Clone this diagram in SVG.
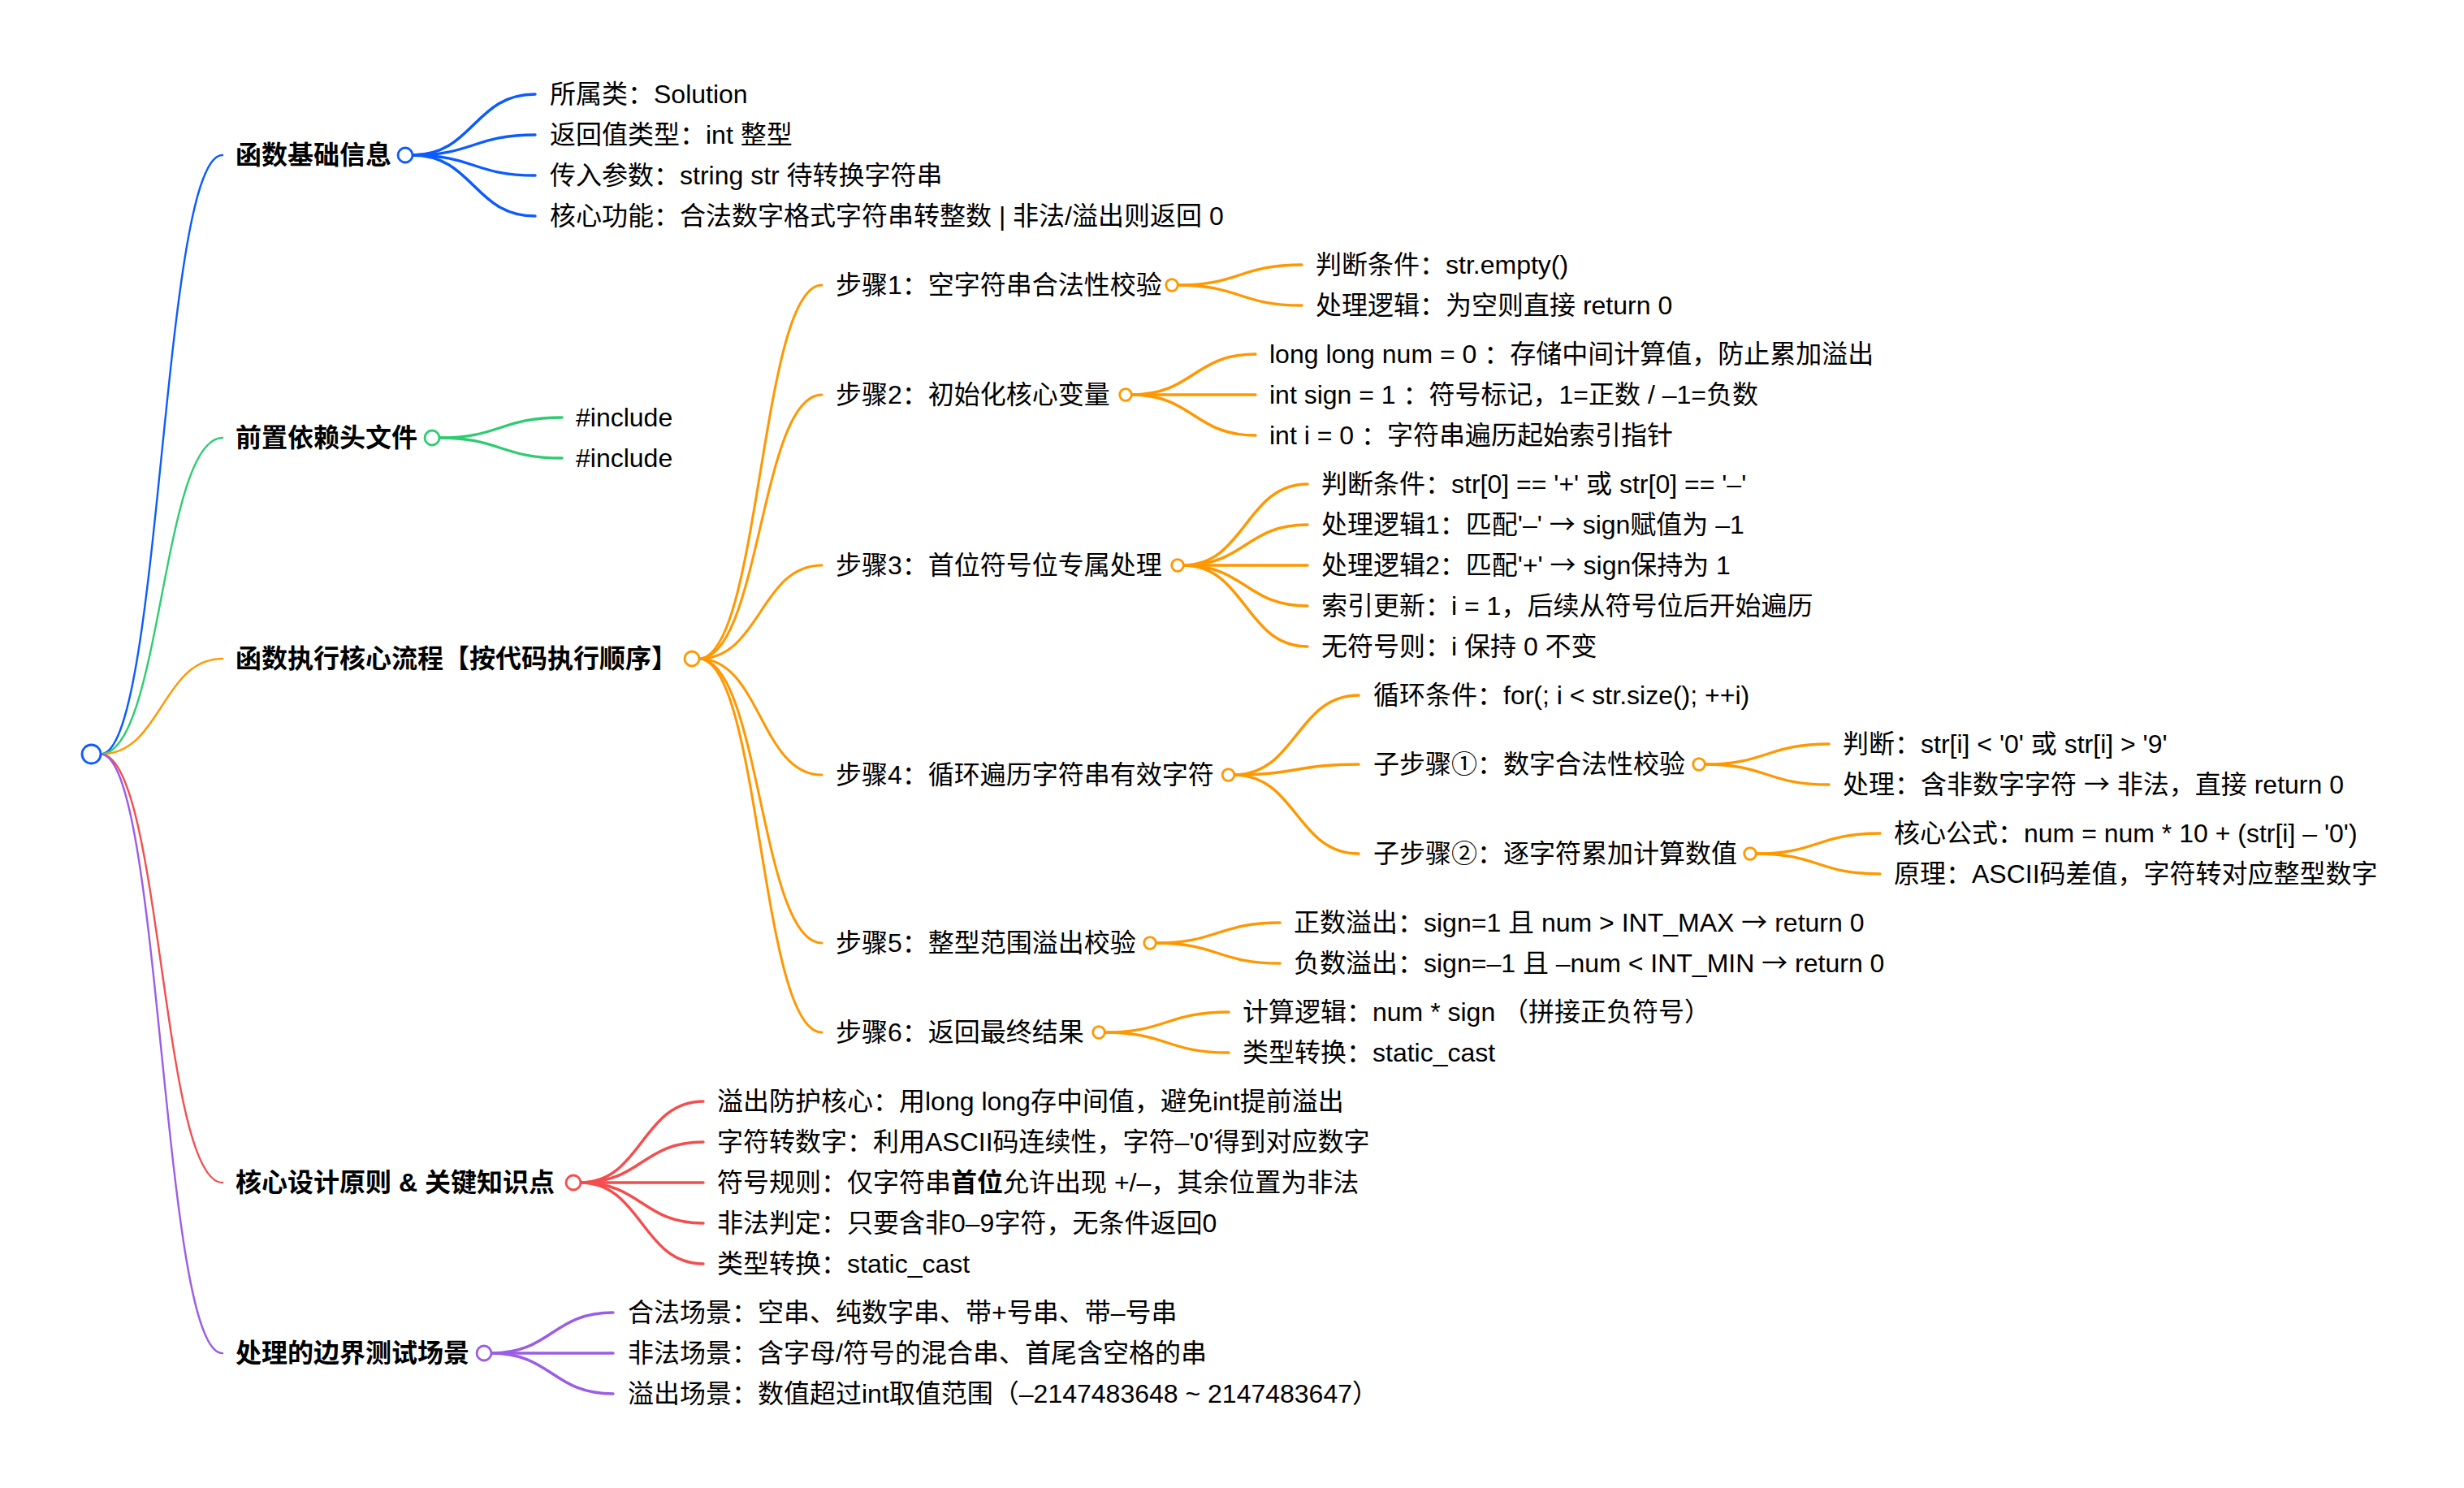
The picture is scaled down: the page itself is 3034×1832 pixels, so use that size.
<svg xmlns="http://www.w3.org/2000/svg" width="3034" height="1832" viewBox="0 0 3034 1832">
<style>
.t{font-family:"Liberation Sans","Noto Sans CJK SC",sans-serif;font-size:32px;fill:#000}
.b{font-weight:700}
.ar{font-family:"Noto Sans CJK SC","DejaVu Sans",sans-serif;font-size:32px}
.lk{fill:none;stroke-linecap:round}
.l1{stroke-width:2.4}
.l2{stroke-width:3}
.l3{stroke-width:3.4}
.c{fill:#fff;stroke-width:2.8}
.blue{stroke:#0b5cff}
.green{stroke:#2ecc71}
.orange{stroke:#ff9800}
.red{stroke:#f44d4d}
.purple{stroke:#9b5de5}
</style>
<rect width="3034" height="1832" fill="#fff"/>
<g id="connectors">
<g class="lk l1">
<path class="blue" d="M124,928.5C199,928.5 199,191 274,191"/>
<path class="green" d="M124,928.5C199,928.5 199,539 274,539"/>
<path class="orange" d="M124,928.5C199,928.5 199,811 274,811"/>
<path class="red" d="M124,928.5C199,928.5 199,1456 274,1456"/>
<path class="purple" d="M124,928.5C199,928.5 199,1666 274,1666"/>
</g>
<g class="lk l3 blue">
<path d="M507.5,191C583.25,191 583.25,116 659,116"/>
<path d="M507.5,191C583.25,191 583.25,166 659,166"/>
<path d="M507.5,191C583.25,191 583.25,216 659,216"/>
<path d="M507.5,191C583.25,191 583.25,266 659,266"/>
</g>
<g class="lk l3 green">
<path d="M540.5,539C616.25,539 616.25,514 692,514"/>
<path d="M540.5,539C616.25,539 616.25,564 692,564"/>
</g>
<g class="lk l2 orange">
<path d="M860.5,811C936.25,811 936.25,351 1012,351"/>
<path d="M860.5,811C936.25,811 936.25,486 1012,486"/>
<path d="M860.5,811C936.25,811 936.25,696 1012,696"/>
<path d="M860.5,811C936.25,811 936.25,954 1012,954"/>
<path d="M860.5,811C936.25,811 936.25,1161 1012,1161"/>
<path d="M860.5,811C936.25,811 936.25,1271 1012,1271"/>
</g>
<g class="lk l3 orange">
<path d="M1450,351C1526.5,351 1526.5,326 1603,326"/>
<path d="M1450,351C1526.5,351 1526.5,376 1603,376"/>
<path d="M1393,486C1469.5,486 1469.5,436 1546,436"/>
<path d="M1393,486C1469.5,486 1469.5,486 1546,486"/>
<path d="M1393,486C1469.5,486 1469.5,536 1546,536"/>
<path d="M1457,696C1533.5,696 1533.5,596 1610,596"/>
<path d="M1457,696C1533.5,696 1533.5,646 1610,646"/>
<path d="M1457,696C1533.5,696 1533.5,696 1610,696"/>
<path d="M1457,696C1533.5,696 1533.5,746 1610,746"/>
<path d="M1457,696C1533.5,696 1533.5,796 1610,796"/>
<path d="M1519.5,954C1596.25,954 1596.25,856 1673,856"/>
<path d="M1519.5,954C1596.25,954 1596.25,941 1673,941"/>
<path d="M1519.5,954C1596.25,954 1596.25,1051 1673,1051"/>
<path d="M2099,941C2175.5,941 2175.5,916 2252,916"/>
<path d="M2099,941C2175.5,941 2175.5,966 2252,966"/>
<path d="M2162,1051C2238.5,1051 2238.5,1026 2315,1026"/>
<path d="M2162,1051C2238.5,1051 2238.5,1076 2315,1076"/>
<path d="M1423,1161C1499.5,1161 1499.5,1136 1576,1136"/>
<path d="M1423,1161C1499.5,1161 1499.5,1186 1576,1186"/>
<path d="M1360,1271C1436.5,1271 1436.5,1246 1513,1246"/>
<path d="M1360,1271C1436.5,1271 1436.5,1296 1513,1296"/>
</g>
<g class="lk l3 red">
<path d="M714.5,1456C790.25,1456 790.25,1356 866,1356"/>
<path d="M714.5,1456C790.25,1456 790.25,1406 866,1406"/>
<path d="M714.5,1456C790.25,1456 790.25,1456 866,1456"/>
<path d="M714.5,1456C790.25,1456 790.25,1506 866,1506"/>
<path d="M714.5,1456C790.25,1456 790.25,1556 866,1556"/>
</g>
<g class="lk l3 purple">
<path d="M604.5,1666C679.75,1666 679.75,1616 755,1616"/>
<path d="M604.5,1666C679.75,1666 679.75,1666 755,1666"/>
<path d="M604.5,1666C679.75,1666 679.75,1716 755,1716"/>
</g>
</g>

<g id="root"><circle class="c blue" cx="112.5" cy="928.5" r="11.5"/></g>

<g id="n-basic"><text class="t b" x="290" y="202">函数基础信息</text><circle class="c blue" cx="499" cy="191" r="9"/></g>
<g id="n-basic-1"><text class="t" x="677" y="127">所属类：Solution</text></g>
<g id="n-basic-2"><text class="t" x="677" y="177">返回值类型：int 整型</text></g>
<g id="n-basic-3"><text class="t" x="677" y="227">传入参数：string str 待转换字符串</text></g>
<g id="n-basic-4"><text class="t" x="677" y="277">核心功能：合法数字格式字符串转整数 | 非法/溢出则返回 0</text></g>

<g id="n-include"><text class="t b" x="290" y="550">前置依赖头文件</text><circle class="c green" cx="532" cy="539" r="9"/></g>
<g id="n-include-1"><text class="t" x="709" y="525">#include</text></g>
<g id="n-include-2"><text class="t" x="709" y="575">#include</text></g>

<g id="n-flow"><text class="t b" x="290" y="822">函数执行核心流程【按代码执行顺序】</text><circle class="c orange" cx="852" cy="811" r="9"/></g>

<g id="n-step1"><text class="t" x="1029" y="362">步骤1：空字符串合法性校验</text><circle class="c orange" cx="1443" cy="351" r="7.3"/></g>
<g id="n-step1-1"><text class="t" x="1620" y="337">判断条件：str.empty()</text></g>
<g id="n-step1-2"><text class="t" x="1620" y="387">处理逻辑：为空则直接 return 0</text></g>

<g id="n-step2"><text class="t" x="1029" y="497">步骤2：初始化核心变量</text><circle class="c orange" cx="1386" cy="486" r="7.3"/></g>
<g id="n-step2-1"><text class="t" x="1563" y="447">long long num = 0 ：存储中间计算值，防止累加溢出</text></g>
<g id="n-step2-2"><text class="t" x="1563" y="497">int sign = 1 ：符号标记，1=正数 / –1=负数</text></g>
<g id="n-step2-3"><text class="t" x="1563" y="547">int i = 0 ：字符串遍历起始索引指针</text></g>

<g id="n-step3"><text class="t" x="1029" y="707">步骤3：首位符号位专属处理</text><circle class="c orange" cx="1450" cy="696" r="7.3"/></g>
<g id="n-step3-1"><text class="t" x="1627" y="607">判断条件：str[0] == '+' 或 str[0] == '–'</text></g>
<g id="n-step3-2"><text class="t" x="1627" y="657">处理逻辑1：匹配'–' <tspan class="ar">→</tspan> sign赋值为 –1</text></g>
<g id="n-step3-3"><text class="t" x="1627" y="707">处理逻辑2：匹配'+' <tspan class="ar">→</tspan> sign保持为 1</text></g>
<g id="n-step3-4"><text class="t" x="1627" y="757">索引更新：i = 1，后续从符号位后开始遍历</text></g>
<g id="n-step3-5"><text class="t" x="1627" y="807">无符号则：i 保持 0 不变</text></g>

<g id="n-step4"><text class="t" x="1029" y="965">步骤4：循环遍历字符串有效字符</text><circle class="c orange" cx="1512.5" cy="954" r="7.3"/></g>
<g id="n-step4-1"><text class="t" x="1691" y="867">循环条件：for(; i &lt; str.size(); ++i)</text></g>
<g id="n-step4-2"><text class="t" x="1691" y="952">子步骤①：数字合法性校验</text><circle class="c orange" cx="2092" cy="941" r="7.3"/></g>
<g id="n-step4-2-1"><text class="t" x="2269" y="927">判断：str[i] &lt; '0' 或 str[i] &gt; '9'</text></g>
<g id="n-step4-2-2"><text class="t" x="2269" y="977">处理：含非数字字符 <tspan class="ar">→</tspan> 非法，直接 return 0</text></g>
<g id="n-step4-3"><text class="t" x="1691" y="1062">子步骤②：逐字符累加计算数值</text><circle class="c orange" cx="2155" cy="1051" r="7.3"/></g>
<g id="n-step4-3-1"><text class="t" x="2332" y="1037">核心公式：num = num * 10 + (str[i] – '0')</text></g>
<g id="n-step4-3-2"><text class="t" x="2332" y="1087">原理：ASCII码差值，字符转对应整型数字</text></g>

<g id="n-step5"><text class="t" x="1029" y="1172">步骤5：整型范围溢出校验</text><circle class="c orange" cx="1416" cy="1161" r="7.3"/></g>
<g id="n-step5-1"><text class="t" x="1593" y="1147">正数溢出：sign=1 且 num &gt; INT_MAX <tspan class="ar">→</tspan> return 0</text></g>
<g id="n-step5-2"><text class="t" x="1593" y="1197">负数溢出：sign=–1 且 –num &lt; INT_MIN <tspan class="ar">→</tspan> return 0</text></g>

<g id="n-step6"><text class="t" x="1029" y="1282">步骤6：返回最终结果</text><circle class="c orange" cx="1353" cy="1271" r="7.3"/></g>
<g id="n-step6-1"><text class="t" x="1530" y="1257">计算逻辑：num * sign （拼接正负符号）</text></g>
<g id="n-step6-2"><text class="t" x="1530" y="1307">类型转换：static_cast</text></g>

<g id="n-design"><text class="t b" x="290" y="1467">核心设计原则 &amp; 关键知识点</text><circle class="c red" cx="706" cy="1456" r="9"/></g>
<g id="n-design-1"><text class="t" x="883" y="1367">溢出防护核心：用long long存中间值，避免int提前溢出</text></g>
<g id="n-design-2"><text class="t" x="883" y="1417">字符转数字：利用ASCII码连续性，字符–'0'得到对应数字</text></g>
<g id="n-design-3"><text class="t" x="883" y="1467">符号规则：仅字符串<tspan class="b">首位</tspan>允许出现 +/–，其余位置为非法</text></g>
<g id="n-design-4"><text class="t" x="883" y="1517">非法判定：只要含非0–9字符，无条件返回0</text></g>
<g id="n-design-5"><text class="t" x="883" y="1567">类型转换：static_cast</text></g>

<g id="n-test"><text class="t b" x="290" y="1677">处理的边界测试场景</text><circle class="c purple" cx="596" cy="1666" r="9"/></g>
<g id="n-test-1"><text class="t" x="773" y="1627">合法场景：空串、纯数字串、带+号串、带–号串</text></g>
<g id="n-test-2"><text class="t" x="773" y="1677">非法场景：含字母/符号的混合串、首尾含空格的串</text></g>
<g id="n-test-3"><text class="t" x="773" y="1727">溢出场景：数值超过int取值范围（–2147483648 ~ 2147483647）</text></g>
</svg>
